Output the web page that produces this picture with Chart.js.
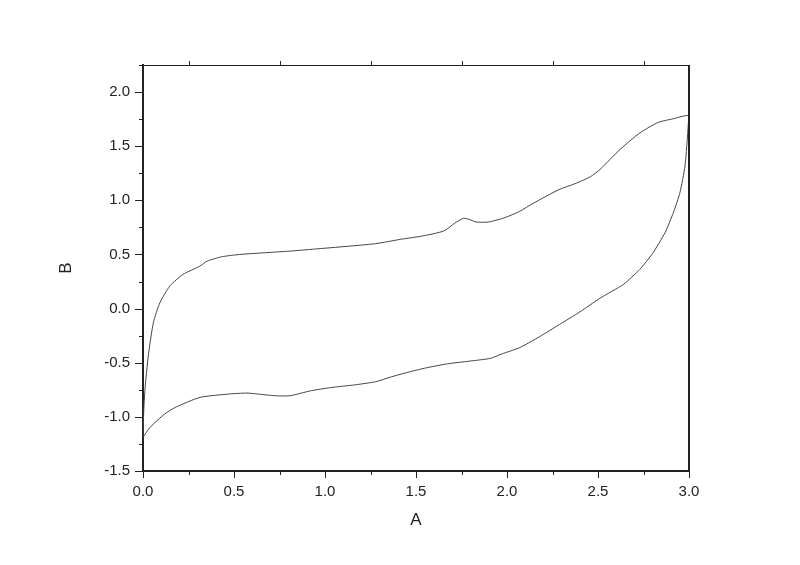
<!DOCTYPE html>
<html lang="en">
<head>
  <meta charset="UTF-8" />
  <title>A vs B</title>
  <script src="https://cdn.jsdelivr.net/npm/chart.js"></script>
  <style>
    body { margin: 0; background: #fff; }
    #wrap { width: 800px; height: 565px; }
  </style>
</head>
<body>
<div id="wrap"><canvas id="chart" width="800" height="565"></canvas></div>
<script>
  // forward sweep (upper branch)
  const upperA = [0.0, 0.004, 0.011, 0.029, 0.057, 0.093, 0.148, 0.22, 0.313, 0.354, 0.433, 0.531,
    0.669, 0.807, 0.944, 1.121, 1.279, 1.416, 1.534, 1.653, 1.712, 1.761, 1.79, 1.83, 1.90, 1.988,
    2.067, 2.145, 2.283, 2.382, 2.46, 2.511, 2.621, 2.731, 2.831, 2.912, 2.996];
  const upperB = [-1.19, -0.95, -0.745, -0.437, -0.13, 0.055, 0.21, 0.316, 0.393, 0.44, 0.479, 0.50,
    0.516, 0.531, 0.55, 0.575, 0.60, 0.64, 0.67, 0.717, 0.788, 0.834, 0.825, 0.80, 0.80, 0.84,
    0.896, 0.973, 1.097, 1.159, 1.22, 1.285, 1.47, 1.624, 1.72, 1.753, 1.783];
  // reverse sweep (lower branch)
  const lowerA = [2.996, 2.978, 2.95, 2.914, 2.868, 2.80, 2.73, 2.64, 2.51, 2.40, 2.29, 2.18, 2.07, 1.97,
    1.908, 1.79, 1.673, 1.554, 1.456, 1.357, 1.279, 1.161, 1.043, 0.925, 0.807, 0.728, 0.63, 0.571,
    0.472, 0.313, 0.177, 0.118, 0.038, 0.0];
  const lowerB = [1.70, 1.316, 1.07, 0.886, 0.70, 0.51, 0.363, 0.224, 0.095, -0.031, -0.145, -0.258, -0.36, -0.42,
    -0.46, -0.486, -0.51, -0.548, -0.588, -0.634, -0.675, -0.705, -0.727, -0.758, -0.805, -0.805, -0.789, -0.78,
    -0.789, -0.82, -0.913, -0.975, -1.098, -1.19];

  const xMin = 0, xMax = 3, yMin = -1.5, yMax = 2.25;

  const points = [];
  upperA.forEach((a, i) => points.push({ x: a, y: upperB[i] }));
  lowerA.forEach((a, i) => points.push({ x: a, y: lowerB[i] }));

  const ink = '#222';
  const fontFam = '"Liberation Sans", Arial, sans-serif';

  function isHalf(v) { return Math.abs(v * 2 - Math.round(v * 2)) < 1e-6; }

  // Origin style tick marks + top/right frame
  const frame = {
    id: 'frame',
    afterDraw(chart) {
      const { ctx, chartArea: ca } = chart;
      const xs = chart.scales.x, ys = chart.scales.y;
      ctx.save();
      ctx.strokeStyle = ink;
      ctx.lineWidth = 1;
      ctx.beginPath();
      ctx.moveTo(ca.left, ca.top + 0.5);
      ctx.lineTo(ca.right, ca.top + 0.5);
      ctx.stroke();
      ctx.lineWidth = 2;
      ctx.beginPath();
      ctx.moveTo(ca.right, ca.top);
      ctx.lineTo(ca.right, ca.bottom);
      ctx.stroke();
      ctx.lineWidth = 1;
      ctx.beginPath();
      for (let v = xMin; v <= xMax + 1e-9; v += 0.25) {
        const px = Math.round(xs.getPixelForValue(v)) + 0.5;
        const len = isHalf(v) ? 7 : 4;
        ctx.moveTo(px, ca.bottom);
        ctx.lineTo(px, ca.bottom + len);
        if (!isHalf(v)) {
          ctx.moveTo(px, ca.top);
          ctx.lineTo(px, ca.top - 4);
        }
      }
      for (let v = yMin; v <= yMax + 1e-9; v += 0.25) {
        const py = Math.round(ys.getPixelForValue(v)) + 0.5;
        const len = isHalf(v) ? 8 : 4;
        ctx.moveTo(ca.left, py);
        ctx.lineTo(ca.left - len, py);
      }
      ctx.stroke();
      ctx.restore();
    }
  };

  new Chart(document.getElementById('chart'), {
    type: 'scatter',
    data: {
      datasets: [{
        data: points,
        showLine: true,
        borderColor: '#444',
        borderWidth: 1,
        pointRadius: 0,
        tension: 0.2
      }]
    },
    options: {
      responsive: false,
      animation: false,
      layout: { padding: { top: 65, right: 111, left: 0, bottom: 0 } },
      plugins: { legend: { display: false }, tooltip: { enabled: false } },
      scales: {
        x: {
          type: 'linear', min: xMin, max: xMax,
          afterFit: s => { s.height = 94; },
          grid: { display: false },
          border: { display: true, color: ink, width: 2 },
          ticks: {
            stepSize: 0.25, padding: 4, color: ink, maxRotation: 0, autoSkip: false,
            font: { family: fontFam, size: 15 },
            callback: v => isHalf(v) ? v.toFixed(1) : ''
          },
          title: {
            display: true, text: 'A', color: ink,
            font: { family: fontFam, size: 17 },
            padding: { top: 0, bottom: 34 }
          }
        },
        y: {
          type: 'linear', min: yMin, max: yMax,
          afterFit: s => { s.width = 143; },
          grid: { display: false },
          border: { display: true, color: ink, width: 2 },
          ticks: {
            stepSize: 0.25, padding: 5, color: ink, autoSkip: false,
            font: { family: fontFam, size: 15 },
            callback: v => isHalf(v) && v < 2.2 ? v.toFixed(1) : ''
          },
          title: {
            display: true, text: 'B', color: ink,
            font: { family: fontFam, size: 17 },
            padding: { top: 56, bottom: 0 }
          }
        }
      }
    },
    plugins: [frame]
  });
</script>
</body>
</html>
